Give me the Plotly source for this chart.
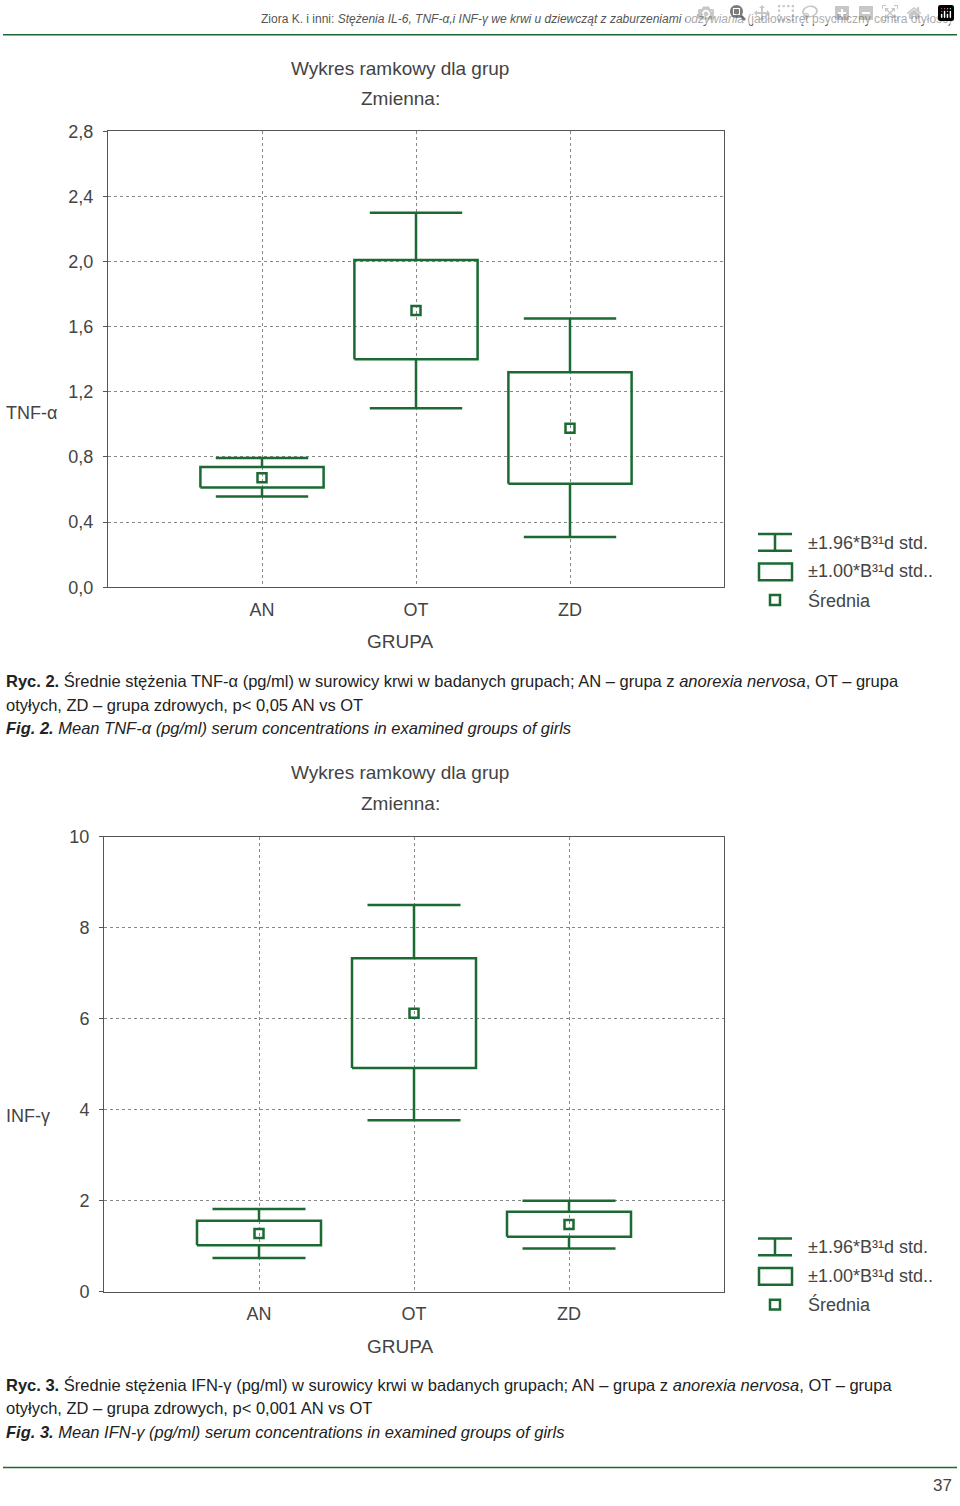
import plotly.graph_objects as go

groups = ["AN", "OT", "ZD"]
# TNF-alpha
tnf_mean = [0.673, 1.70, 0.976]
tnf_box_lo = [0.612, 1.40, 0.636]
tnf_box_hi = [0.739, 2.01, 1.32]
tnf_wh_lo = [0.558, 1.10, 0.309]
tnf_wh_hi = [0.794, 2.30, 1.65]
tnf_ticks = [0, 0.4, 0.8, 1.2, 1.6, 2.0, 2.4, 2.8]
tnf_ticklabels = ["0,0", "0,4", "0,8", "1,2", "1,6", "2,0", "2,4", "2,8"]
# IFN-gamma
ifn_mean = [1.28, 6.12, 1.48]
ifn_box_lo = [1.02, 4.92, 1.21]
ifn_box_hi = [1.56, 7.33, 1.76]
ifn_wh_lo = [0.74, 3.77, 0.95]
ifn_wh_hi = [1.82, 8.50, 2.00]
ifn_ticks = [0, 2, 4, 6, 8, 10]
ifn_ticklabels = ["0", "2", "4", "6", "8", "10"]

W, H = 960, 1506
G = "#1b6a33"
GRID = "#888888"
def P(x): return x / W
def Q(y): return 1 - y / H

fig = go.Figure()

def add_boxes(xa, ya, mean, blo, bhi, wlo, whi):
    for i in range(3):
        bx = [i - 0.4, i + 0.4, i + 0.4, i - 0.4, i - 0.4]
        by = [blo[i], blo[i], bhi[i], bhi[i], blo[i]]
        fig.add_trace(go.Scatter(x=bx, y=by, mode="lines", line=dict(color=G, width=2.5),
                                 xaxis=xa, yaxis=ya, showlegend=False, hoverinfo="skip"))
        for a, b in [(bhi[i], whi[i]), (blo[i], wlo[i])]:
            fig.add_trace(go.Scatter(x=[i, i], y=[a, b], mode="lines", line=dict(color=G, width=2.5),
                                     xaxis=xa, yaxis=ya, showlegend=False, hoverinfo="skip"))
        for v in [whi[i], wlo[i]]:
            fig.add_trace(go.Scatter(x=[i - 0.3, i + 0.3], y=[v, v], mode="lines", line=dict(color=G, width=2.5),
                                     xaxis=xa, yaxis=ya, showlegend=False, hoverinfo="skip"))
    fig.add_trace(go.Scatter(x=list(range(3)), y=mean, mode="markers",
                             marker=dict(symbol="square-open", size=9, color=G, line=dict(width=2.5)),
                             xaxis=xa, yaxis=ya, showlegend=False, hoverinfo="skip"))

add_boxes("x", "y", tnf_mean, tnf_box_lo, tnf_box_hi, tnf_wh_lo, tnf_wh_hi)
add_boxes("x2", "y2", ifn_mean, ifn_box_lo, ifn_box_hi, ifn_wh_lo, ifn_wh_hi)

axfont = dict(family="Liberation Sans, Arial", size=18, color="#444")
common_x = dict(range=[-1, 3], tickvals=[0, 1, 2], ticktext=groups, showgrid=True, griddash="dot",
                gridcolor=GRID, gridwidth=1, zeroline=False, showline=True, linecolor="#555", mirror=True,
                tickfont=axfont, ticks="", ticklabelstandoff=6)
common_y = dict(showgrid=True, griddash="dot", gridcolor=GRID, gridwidth=1, zeroline=False,
                showline=True, linecolor="#555", mirror=True, tickfont=axfont, ticks="outside",
                ticklen=4, tickcolor="#555", ticklabelstandoff=6)

fig.update_layout(
    width=W, height=H, margin=dict(l=0, r=0, t=0, b=0),
    paper_bgcolor="white", plot_bgcolor="white",
    xaxis=dict(domain=[P(108), P(724)], anchor="y", **common_x),
    yaxis=dict(domain=[Q(585), Q(123)], anchor="x", range=[0, 2.8], tickvals=tnf_ticks,
               ticktext=tnf_ticklabels, **common_y),
    xaxis2=dict(domain=[P(104), P(724)], anchor="y2", **common_x),
    yaxis2=dict(domain=[Q(1299), Q(838)], anchor="x2", range=[0, 10], tickvals=ifn_ticks,
                ticktext=ifn_ticklabels, **common_y),
)

def txt(x, y, s, size=18, xanchor="left", family="Liberation Sans, Arial", color="#444"):
    fig.add_annotation(x=P(x), y=Q(y), xref="paper", yref="paper", text=s, showarrow=False,
                       xanchor=xanchor, yanchor="middle", font=dict(family=family, size=size, color=color))

# header
txt(954, 9, "Ziora K. i inni: <i>Stężenia IL-6, TNF-α,i INF-γ we krwi u dziewcząt z zaburzeniami odżywiania</i> (jadłowstręt psychiczny contra otyłość)",
    size=12, xanchor="right", color="#555")
fig.add_shape(type="line", xref="paper", yref="paper", x0=P(3), x1=P(957), y0=Q(25), y1=Q(25),
              line=dict(color=G, width=1.5))
fig.add_shape(type="line", xref="paper", yref="paper", x0=P(3), x1=P(957), y0=Q(1477), y1=Q(1477),
              line=dict(color=G, width=1.5))
txt(954, 1495, "37", size=17, xanchor="right")

# chart titles
for (y1, y2) in [(59, 90), (773, 804)]:
    txt(289, y1, "Wykres ramkowy dla grup", size=19)
    txt(359, y2, "Zmienna:", size=19)
txt(4, 408, "TNF-α", size=18)
txt(4, 1121, "INF-γ", size=18)
txt(400, 640, "GRUPA", size=19, xanchor="center")
txt(400, 1354, "GRUPA", size=19, xanchor="center")

# legends
for oy in [0, 714]:
    y0 = 540 + oy
    fig.add_shape(type="line", xref="paper", yref="paper", x0=P(758), x1=P(792), y0=Q(y0 - 9), y1=Q(y0 - 9), line=dict(color=G, width=2.5))
    fig.add_shape(type="line", xref="paper", yref="paper", x0=P(758), x1=P(792), y0=Q(y0 + 8), y1=Q(y0 + 8), line=dict(color=G, width=2.5))
    fig.add_shape(type="line", xref="paper", yref="paper", x0=P(775), x1=P(775), y0=Q(y0 - 9), y1=Q(y0 + 8), line=dict(color=G, width=2.5))
    fig.add_shape(type="rect", xref="paper", yref="paper", x0=P(759), x1=P(792), y0=Q(y0 + 21), y1=Q(y0 + 38), line=dict(color=G, width=2.5))
    fig.add_shape(type="rect", xref="paper", yref="paper", x0=P(770), x1=P(780), y0=Q(y0 + 53), y1=Q(y0 + 63), line=dict(color=G, width=2.5))
    txt(806, y0, "±1.96*B³¹d std.", size=18)
    txt(806, y0 + 29, "±1.00*B³¹d std..", size=18)
    txt(806, y0 + 58, "Średnia", size=18)

# captions
cap = 16.5
cc = "#222"
txt(4, 680, "<b>Ryc. 2.</b> Średnie stężenia TNF-α (pg/ml) w surowicy krwi w badanych grupach; AN – grupa z <i>anorexia nervosa</i>, OT – grupa", size=cap, color=cc)
txt(4, 704, "otyłych, ZD – grupa zdrowych, p< 0,05 AN vs OT", size=cap, color=cc)
txt(4, 728, "<b><i>Fig. 2.</i></b><i> Mean TNF-α (pg/ml) serum concentrations in examined groups of girls</i>", size=cap, color=cc)
txt(4, 1393, "<b>Ryc. 3.</b> Średnie stężenia IFN-γ (pg/ml) w surowicy krwi w badanych grupach; AN – grupa z <i>anorexia nervosa</i>, OT – grupa", size=cap, color=cc)
txt(4, 1417, "otyłych, ZD – grupa zdrowych, p< 0,001 AN vs OT", size=cap, color=cc)
txt(4, 1441, "<b><i>Fig. 3.</i></b><i> Mean IFN-γ (pg/ml) serum concentrations in examined groups of girls</i>", size=cap, color=cc)

fig.write_html("out.html",
               post_script="document.body.style.margin='0';document.body.style.padding='0';document.documentElement.style.overflow='hidden';document.body.style.overflow='hidden';")
